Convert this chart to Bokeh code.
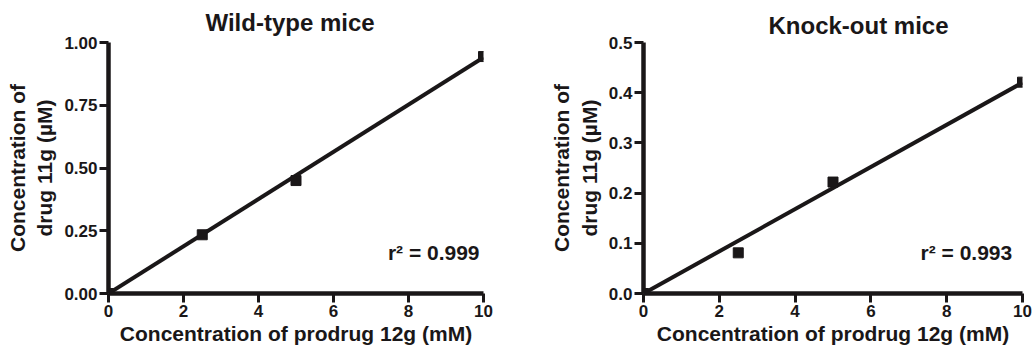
from bokeh.plotting import figure
from bokeh.layouts import row
from bokeh.models import FixedTicker, Range1d, Title
from bokeh.core.properties import value
from bokeh.embed import file_html
from bokeh.resources import INLINE

# ---- data ----
conc_prodrug = [0, 2.5, 5, 10]
wt_drug = [0, 0.234, 0.45, 0.944]
ko_drug = [0, 0.081, 0.222, 0.421]
fit_x = [0, 10]
wt_fit = [0, 0.94]
ko_fit = [0, 0.42]
x_ticks = [0, 2, 4, 6, 8, 10]
x_tick_labels = ["0", "2", "4", "6", "8", "10"]
wt_y_ticks = [0, 0.25, 0.5, 0.75, 1.0]
wt_y_tick_labels = ["0.00", "0.25", "0.50", "0.75", "1.00"]
ko_y_ticks = [0, 0.1, 0.2, 0.3, 0.4, 0.5]
ko_y_tick_labels = ["0.0", "0.1", "0.2", "0.3", "0.4", "0.5"]
titles = ["Wild-type mice", "Knock-out mice"]
r2_texts = ["r\u00b2 = 0.999", "r\u00b2 = 0.993"]
x_label = "Concentration of prodrug 12g (mM)"
y_label = "Concentration of\ndrug 11g (\u00b5M)"

INK = "#1a1718"
FONT = "Liberation Sans"


def make_panel(title, ys, fit, yticks, ylabels, ymax, r2, r2_pos,
               w, h, left, top, right, bottom, title_offset, title_standoff):
    p = figure(width=w, height=h,
               min_border_left=left, min_border_right=right,
               min_border_top=top, min_border_bottom=bottom,
               x_range=Range1d(0, 10), y_range=Range1d(0, ymax),
               output_backend="svg", toolbar_location=None,
               background_fill_color="white", border_fill_color="white")
    p.title = Title(text=title, align="left", offset=title_offset,
                    standoff=title_standoff, text_font=FONT,
                    text_font_size="24px", text_font_style="bold",
                    text_color=INK)
    p.outline_line_color = None
    p.grid.visible = False

    p.axis.axis_line_width = 4.5
    p.axis.axis_line_color = INK
    p.axis.major_tick_line_width = 3
    p.axis.major_tick_line_color = INK
    p.axis.major_tick_out = 9
    p.axis.major_tick_in = 0
    p.axis.minor_tick_line_color = None
    p.axis.major_label_text_font = FONT
    p.axis.major_label_text_font_size = "17px"
    p.axis.major_label_text_font_style = "bold"
    p.axis.major_label_text_color = INK
    p.axis.axis_label_text_font = FONT
    p.axis.axis_label_text_font_size = "21px"
    p.axis.axis_label_text_font_style = "bold"
    p.axis.axis_label_text_color = INK

    p.xaxis.ticker = FixedTicker(ticks=x_ticks)
    p.xaxis.major_label_overrides = {t: l for t, l in zip(x_ticks, x_tick_labels)}
    p.xaxis.major_label_standoff = 2
    p.xaxis.axis_label = x_label
    p.xaxis.axis_label_standoff = 2

    p.yaxis.ticker = FixedTicker(ticks=yticks)
    p.yaxis.major_label_overrides = {t: l for t, l in zip(yticks, ylabels)}
    p.yaxis.major_label_standoff = 2
    p.yaxis.axis_label = y_label
    p.yaxis.axis_label_standoff = 5

    p.line(fit_x, fit, line_width=4, line_color=INK)
    p.scatter(conc_prodrug, ys, marker="square", size=10,
              fill_color=INK, line_color=INK)
    p.text(x=[r2_pos[0]], y=[r2_pos[1]], text=[r2],
           text_font=value(FONT), text_font_size="21px",
           text_font_style="bold", text_color=INK,
           text_align="left", text_baseline="alphabetic")
    return p


p1 = make_panel(titles[0], wt_drug, wt_fit, wt_y_ticks, wt_y_tick_labels, 1.0,
                r2_texts[0], (7.45, 0.163),
                w=525, h=354, left=108, top=42, right=42, bottom=61,
                title_offset=97, title_standoff=13)
p2 = make_panel(titles[1], ko_drug, ko_fit, ko_y_ticks, ko_y_tick_labels, 0.5,
                r2_texts[1], (7.31, 0.081),
                w=509, h=354, left=118, top=39, right=12, bottom=61,
                title_offset=125, title_standoff=7)

layout = row(p1, p2)
open("out.html", "w").write(file_html(layout, INLINE))
